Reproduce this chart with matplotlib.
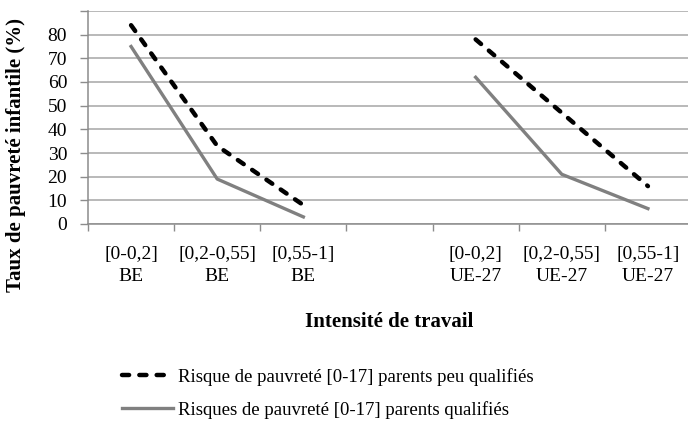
import numpy as np
import matplotlib
matplotlib.use('Agg')
import matplotlib.pyplot as plt
from matplotlib.lines import Line2D

plt.rcParams['font.family'] = ['Liberation Serif', 'DejaVu Serif']

# categories (one empty slot between Belgium and EU-27)
categories = ['[0-0,2]\nBE', '[0,2-0,55]\nBE', '[0,55-1]\nBE', '',
              '[0-0,2]\nUE-27', '[0,2-0,55]\nUE-27', '[0,55-1]\nUE-27']

# values (%)
peu_qualifies_be = [84, 33, 8]
peu_qualifies_ue = [78, 47, 16]
qualifies_be = [75, 19, 3]
qualifies_ue = [62, 21, 6.5]

label_peu = 'Risque de pauvreté [0-17] parents peu qualifiés'
label_qual = 'Risques de pauvreté [0-17] parents qualifiés'

fig = plt.figure(figsize=(6.88, 4.25), dpi=100)
ax = fig.add_axes([88 / 688, 201 / 425, 603 / 688, 213 / 425])

x = np.arange(1, len(categories) + 1)
x_be = x[0:3]
x_ue = x[4:7]

grey = '#808080'
dash_kw = dict(color='black', lw=3.2, dashes=(1.6, 2.3),
               dash_capstyle='round', solid_capstyle='round')
solid_kw = dict(color=grey, lw=2.4)

ax.plot(x_be, qualifies_be, **solid_kw)
ax.plot(x_ue, qualifies_ue, **solid_kw)
ax.plot(x_be, peu_qualifies_be, **dash_kw)
ax.plot(x_ue, peu_qualifies_ue, **dash_kw)

ax.set_xlim(0.5, len(categories) + 0.5)
ax.set_ylim(0, 90)
ax.set_yticks(np.arange(0, 91, 10))
ax.set_yticklabels([str(v) for v in range(0, 81, 10)] + [''])
ax.yaxis.grid(True, color='#a6a6a6', lw=1.1)
ax.set_axisbelow(True)

ax.set_xticks(x)
ax.set_xticklabels(categories, fontsize=14, linespacing=1.35)
ax.set_xticks(np.arange(0.5, len(categories) + 1, 1), minor=True)
ax.tick_params(axis='x', which='major', length=0, pad=16)
ax.tick_params(axis='x', which='minor', length=5, color='#8c8c8c', width=1)
ax.tick_params(axis='y', length=6, color='#8c8c8c', width=1,
               labelsize=14, pad=9)

for side in ['top', 'right']:
    ax.spines[side].set_visible(False)
for side in ['left', 'bottom']:
    ax.spines[side].set_color('#8c8c8c')
    ax.spines[side].set_linewidth(1.1)

fig.text(16 / 688, 1 - 155 / 425, 'Taux de pauvreté infantile (%)',
         rotation=90, ha='center', va='center', fontsize=15,
         fontweight='bold')
fig.text(389 / 688, 1 - 322 / 425, 'Intensité de travail',
         ha='center', va='center', fontsize=15, fontweight='bold')

handles = [Line2D([], [], **dash_kw), Line2D([], [], **solid_kw)]
fig.legend(handles, [label_peu, label_qual], loc='upper left',
           bbox_to_anchor=(122 / 688, 1 - 368 / 425), frameon=False,
           fontsize=13.5, handlelength=2.7, handletextpad=0.3,
           labelspacing=0.8, borderpad=0, borderaxespad=0)

fig.savefig('out.png', dpi=100)
